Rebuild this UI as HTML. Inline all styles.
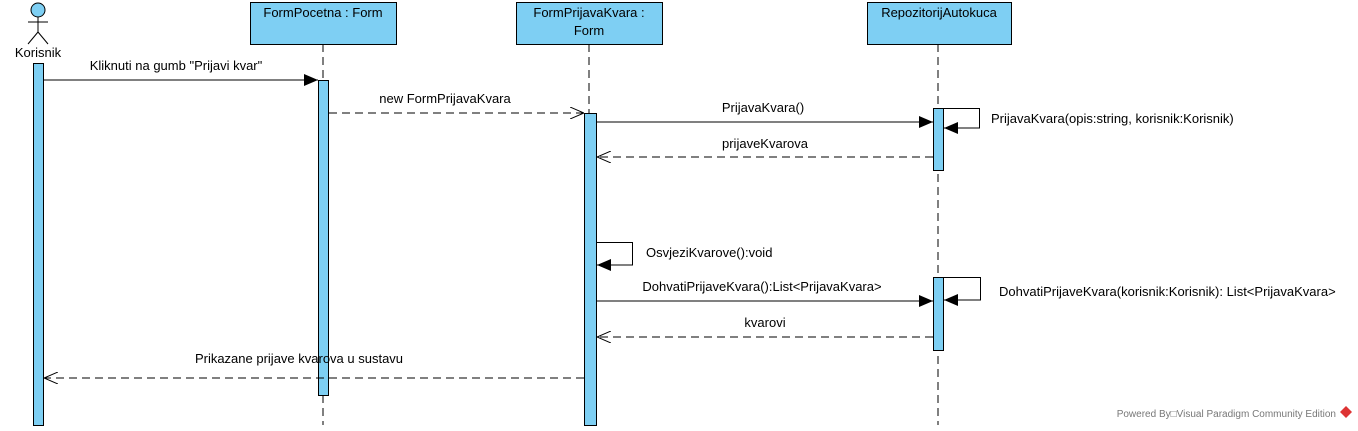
<!DOCTYPE html>
<html><head><meta charset="utf-8"><style>
html,body{margin:0;padding:0;background:#fff;width:1358px;height:431px;overflow:hidden}
text{font-family:"Liberation Sans",Arial,sans-serif;font-size:13px;fill:#000}
</style></head><body>
<svg width="1358" height="431" xmlns="http://www.w3.org/2000/svg">
<defs>
<marker id="f" markerWidth="14" markerHeight="12" refX="14" refY="6" orient="auto" markerUnits="userSpaceOnUse"><path d="M0,0 L14,6 L0,12 Z" fill="#000"/></marker>
<marker id="o" markerWidth="14" markerHeight="12" refX="14" refY="6" orient="auto" markerUnits="userSpaceOnUse"><path d="M0,0 L14,6 L0,12" fill="none" stroke="#000"/></marker>
</defs>
<g stroke="#000" fill="none">
<line x1="323" y1="44" x2="323" y2="425" stroke-dasharray="8,5"/>
<line x1="589" y1="44" x2="589" y2="425" stroke-dasharray="8,5"/>
<line x1="938" y1="44" x2="938" y2="425" stroke-dasharray="8,5"/>
<circle cx="38" cy="10" r="7" fill="#7ecff3"/>
<line x1="38" y1="17" x2="38" y2="32"/>
<line x1="28" y1="22" x2="48" y2="22"/>
<line x1="38" y1="32" x2="28" y2="44"/>
<line x1="38" y1="32" x2="48" y2="44"/>
</g>
<g fill="#7ecff3" stroke="#000">
<rect x="250.5" y="2.5" width="146" height="42"/>
<rect x="516.5" y="2.5" width="146" height="42"/>
<rect x="867.5" y="2.5" width="144" height="42"/>
<rect x="33.5" y="63.5" width="10" height="362"/>
<rect x="318.5" y="80.5" width="10" height="315"/>
<rect x="584.5" y="113.5" width="12" height="312"/>
<rect x="933.5" y="108.5" width="10" height="62"/>
<rect x="933.5" y="277.5" width="10" height="73"/>
</g>
<text x="38" y="57" text-anchor="middle">Korisnik</text>
<text x="323" y="17" text-anchor="middle">FormPocetna : Form</text>
<text x="589" y="17" text-anchor="middle">FormPrijavaKvara :</text>
<text x="589" y="35" text-anchor="middle">Form</text>
<text x="939" y="17" text-anchor="middle">RepozitorijAutokuca</text>
<g stroke="#000" fill="none">
<line x1="44" y1="80" x2="318" y2="80" marker-end="url(#f)"/>
<line x1="329" y1="113" x2="584" y2="113" stroke-dasharray="8,5" marker-end="url(#o)"/>
<line x1="597" y1="122" x2="933" y2="122" marker-end="url(#f)"/>
<polyline points="944,108.5 979.5,108.5 979.5,128 944,128" marker-end="url(#f)"/>
<line x1="933" y1="157" x2="597" y2="157" stroke-dasharray="8,5" marker-end="url(#o)"/>
<polyline points="597,242.5 632.5,242.5 632.5,265 597,265" marker-end="url(#f)"/>
<line x1="597" y1="301" x2="933" y2="301" marker-end="url(#f)"/>
<polyline points="944,277.5 980.5,277.5 980.5,300 944,300" marker-end="url(#f)"/>
<line x1="933" y1="337" x2="597" y2="337" stroke-dasharray="8,5" marker-end="url(#o)"/>
<line x1="584" y1="378" x2="44" y2="378" stroke-dasharray="8,5" marker-end="url(#o)"/>
</g>
<text x="176" y="70" text-anchor="middle">Kliknuti na gumb "Prijavi kvar"</text>
<text x="445" y="103" text-anchor="middle">new FormPrijavaKvara</text>
<text x="763" y="112" text-anchor="middle">PrijavaKvara()</text>
<text x="991" y="123">PrijavaKvara(opis:string, korisnik:Korisnik)</text>
<text x="765" y="148" text-anchor="middle">prijaveKvarova</text>
<text x="646" y="257">OsvjeziKvarove():void</text>
<text x="762" y="291" text-anchor="middle">DohvatiPrijaveKvara():List&lt;PrijavaKvara&gt;</text>
<text x="999" y="296">DohvatiPrijaveKvara(korisnik:Korisnik): List&lt;PrijavaKvara&gt;</text>
<text x="765" y="327" text-anchor="middle">kvarovi</text>
<text x="299" y="363" text-anchor="middle">Prikazane prijave kvarova u sustavu</text>
<text x="1336" y="417" text-anchor="end" style="font-size:10px;fill:#777">Powered By□Visual Paradigm Community Edition</text>
<path d="M1346,406 l6,6 l-6,6 l-6,-6 Z" fill="#d33"/>
</svg>
</body></html>
